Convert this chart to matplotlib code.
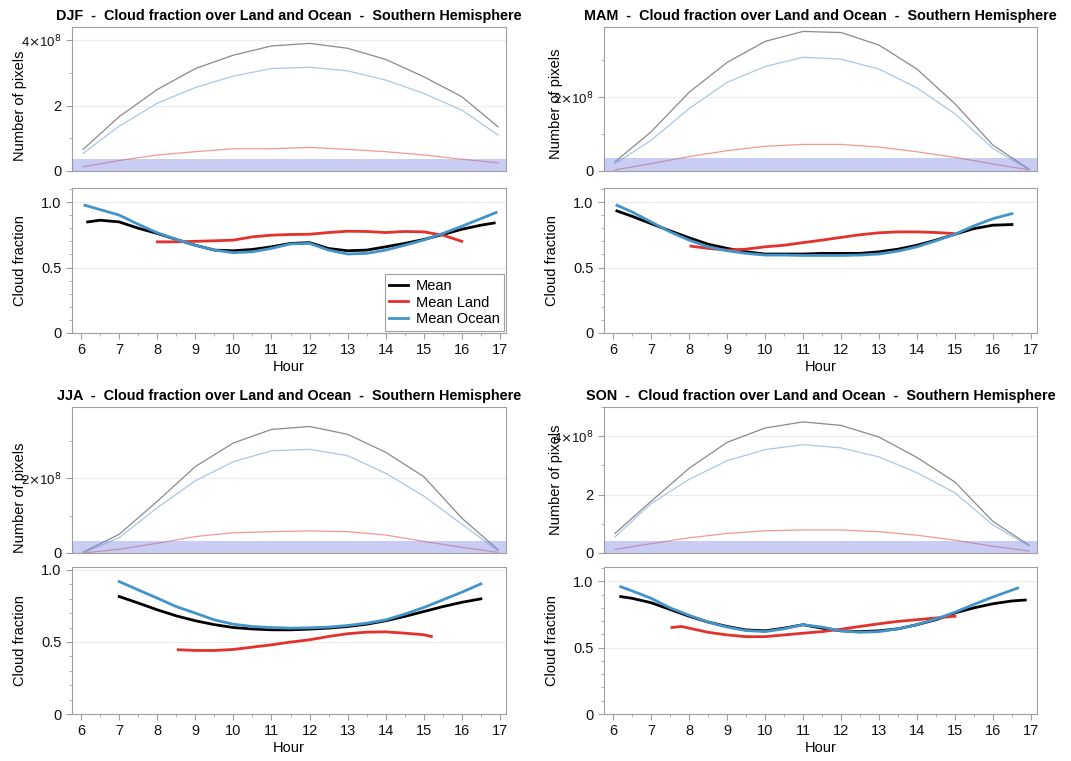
import numpy as np
import matplotlib
matplotlib.use('Agg')
import matplotlib.pyplot as plt
from matplotlib.ticker import MultipleLocator

plt.rcParams['font.family'] = ['Liberation Sans', 'DejaVu Sans']

# ----------------------------------------------------------------------
# Data
# ----------------------------------------------------------------------
SEASONS = ['DJF', 'MAM', 'JJA', 'SON']
TITLE_TAIL = '  -  Cloud fraction over Land and Ocean  -  Southern Hemisphere'

# number of pixels (units of 1e8), one value per hour
PIX_HOURS = [6.05, 7, 8, 9, 10, 11, 12, 13, 14, 15, 16, 16.95]
pix_total = {
    'DJF': [0.66, 1.66, 2.49, 3.13, 3.54, 3.82, 3.90, 3.75, 3.41, 2.88, 2.27, 1.35],
    'MAM': [0.25, 1.06, 2.13, 2.94, 3.51, 3.78, 3.75, 3.41, 2.76, 1.82, 0.70, 0.05],
    'JJA': [0.02, 0.50, 1.38, 2.31, 2.94, 3.30, 3.38, 3.17, 2.69, 2.04, 0.93, 0.09],
    'SON': [0.67, 1.77, 2.90, 3.79, 4.28, 4.49, 4.37, 3.97, 3.27, 2.43, 1.08, 0.27],
}
pix_ocean = {
    'DJF': [0.54, 1.37, 2.07, 2.55, 2.90, 3.13, 3.17, 3.06, 2.78, 2.37, 1.86, 1.10],
    'MAM': [0.20, 0.83, 1.69, 2.40, 2.83, 3.08, 3.03, 2.76, 2.25, 1.55, 0.61, 0.03],
    'JJA': [0.00, 0.41, 1.21, 1.93, 2.44, 2.73, 2.77, 2.60, 2.13, 1.52, 0.77, 0.06],
    'SON': [0.55, 1.69, 2.52, 3.16, 3.54, 3.71, 3.60, 3.29, 2.75, 2.06, 0.96, 0.24],
}
pix_land = {
    'DJF': [0.13, 0.32, 0.49, 0.59, 0.68, 0.68, 0.72, 0.66, 0.59, 0.49, 0.36, 0.25],
    'MAM': [0.03, 0.20, 0.39, 0.55, 0.67, 0.72, 0.72, 0.65, 0.52, 0.37, 0.19, 0.03],
    'JJA': [0.00, 0.10, 0.26, 0.44, 0.54, 0.57, 0.59, 0.57, 0.48, 0.31, 0.15, 0.02],
    'SON': [0.12, 0.32, 0.52, 0.67, 0.76, 0.79, 0.79, 0.73, 0.61, 0.44, 0.23, 0.07],
}
band_top = {'DJF': 0.38, 'MAM': 0.36, 'JJA': 0.31, 'SON': 0.42}
pix_ylim = {'DJF': 4.4, 'MAM': 3.9, 'JJA': 3.9, 'SON': 5.0}

# cloud fraction curves: (hours, values)
cf_mean = {
    'DJF': ([6.17, 6.5, 7, 7.5, 8, 8.5, 9, 9.5, 10, 10.5, 11, 11.5, 12, 12.5, 13, 13.5,
             14, 14.5, 15, 15.5, 16, 16.5, 16.85],
            [0.848, 0.861, 0.848, 0.80, 0.76, 0.714, 0.67, 0.633, 0.628, 0.638, 0.658,
             0.684, 0.69, 0.645, 0.628, 0.633, 0.658, 0.684, 0.714, 0.752, 0.792, 0.823, 0.84]),
    'MAM': ([6.1, 6.5, 7, 7.5, 8, 8.5, 9, 9.5, 10, 10.5, 11, 11.5, 12, 12.5, 13, 13.5,
             14, 14.5, 15, 15.5, 16, 16.5],
            [0.932, 0.891, 0.835, 0.78, 0.727, 0.678, 0.646, 0.62, 0.603, 0.603, 0.603,
             0.608, 0.608, 0.608, 0.62, 0.64, 0.67, 0.709, 0.754, 0.797, 0.823, 0.828]),
    'JJA': ([7, 7.5, 8, 8.5, 9, 9.5, 10, 10.5, 11, 11.5, 12, 12.5, 13, 13.5, 14, 14.5,
             15, 15.5, 16, 16.5],
            [0.815, 0.77, 0.723, 0.681, 0.647, 0.62, 0.60, 0.59, 0.584, 0.584, 0.589,
             0.596, 0.607, 0.623, 0.647, 0.677, 0.711, 0.745, 0.775, 0.799]),
    'SON': ([6.2, 6.5, 7, 7.5, 8, 8.5, 9, 9.5, 10, 10.5, 11, 11.5, 12, 12.5, 13, 13.5,
             14, 14.5, 15, 15.5, 16, 16.5, 16.85],
            [0.885, 0.872, 0.839, 0.788, 0.737, 0.693, 0.66, 0.634, 0.627, 0.647, 0.673,
             0.647, 0.627, 0.621, 0.627, 0.642, 0.673, 0.711, 0.762, 0.80, 0.831, 0.852, 0.859]),
}
cf_ocean = {
    'DJF': ([6.1, 6.5, 7, 7.5, 8, 8.5, 9, 9.5, 10, 10.5, 11, 11.5, 12, 12.5, 13, 13.5,
             14, 14.5, 15, 15.5, 16, 16.5, 16.9],
            [0.975, 0.942, 0.90, 0.83, 0.765, 0.714, 0.67, 0.633, 0.613, 0.62, 0.646,
             0.68, 0.684, 0.633, 0.603, 0.608, 0.633, 0.67, 0.71, 0.76, 0.815, 0.873, 0.92]),
    'MAM': ([6.1, 6.5, 7, 7.5, 8, 8.5, 9, 9.5, 10, 10.5, 11, 11.5, 12, 12.5, 13, 13.5,
             14, 14.5, 15, 15.5, 16, 16.5],
            [0.975, 0.924, 0.848, 0.772, 0.709, 0.658, 0.628, 0.608, 0.595, 0.595, 0.592,
             0.592, 0.592, 0.595, 0.603, 0.625, 0.658, 0.704, 0.754, 0.818, 0.873, 0.911]),
    'JJA': ([7, 7.5, 8, 8.5, 9, 9.5, 10, 10.5, 11, 11.5, 12, 12.5, 13, 13.5, 14, 14.5,
             15, 15.5, 16, 16.5],
            [0.919, 0.861, 0.804, 0.745, 0.70, 0.653, 0.623, 0.607, 0.60, 0.596, 0.598,
             0.603, 0.614, 0.63, 0.653, 0.693, 0.739, 0.792, 0.845, 0.903]),
    'SON': ([6.2, 6.5, 7, 7.5, 8, 8.5, 9, 9.5, 10, 10.5, 11, 11.5, 12, 12.5, 13, 13.5,
             14, 14.5, 15, 15.5, 16, 16.65],
            [0.959, 0.928, 0.872, 0.80, 0.744, 0.693, 0.655, 0.629, 0.621, 0.642, 0.673,
             0.655, 0.627, 0.616, 0.621, 0.642, 0.673, 0.716, 0.767, 0.826, 0.882, 0.949]),
}
cf_land = {
    'DJF': ([8, 8.5, 9, 9.5, 10, 10.5, 11, 11.5, 12, 12.5, 13, 13.5, 14, 14.5, 15, 15.5, 16],
            [0.696, 0.696, 0.70, 0.704, 0.709, 0.734, 0.747, 0.752, 0.754, 0.767, 0.777,
             0.775, 0.767, 0.775, 0.772, 0.747, 0.70]),
    'MAM': ([8.05, 8.5, 9, 9.5, 10, 10.5, 11, 11.5, 12, 12.5, 13, 13.5, 14, 14.5, 14.95],
            [0.663, 0.646, 0.633, 0.64, 0.658, 0.67, 0.69, 0.709, 0.73, 0.75, 0.765,
             0.772, 0.772, 0.767, 0.76]),
    'JJA': ([8.55, 9, 9.5, 10, 10.5, 11, 11.5, 12, 12.5, 13, 13.5, 14, 14.5, 15, 15.2],
            [0.446, 0.441, 0.441, 0.448, 0.464, 0.48, 0.499, 0.515, 0.538, 0.557, 0.568,
             0.57, 0.561, 0.55, 0.538]),
    'SON': ([7.55, 7.8, 8, 8.5, 9, 9.5, 10, 10.5, 11, 11.5, 12, 12.5, 13, 13.5, 14, 14.5, 15],
            [0.652, 0.66, 0.647, 0.616, 0.596, 0.583, 0.583, 0.596, 0.609, 0.621, 0.639,
             0.66, 0.68, 0.698, 0.711, 0.724, 0.737]),
}
cf_ylim = {'DJF': 1.107, 'MAM': 1.107, 'JJA': 1.02, 'SON': 1.108}

HOUR_TICKS = list(range(6, 18))

# ----------------------------------------------------------------------
# Layout (pixel boxes -> figure fractions)
# ----------------------------------------------------------------------
W, H = 1071, 761
def rect(left, right, top, bottom):
    return [left / W, 1 - bottom / H, (right - left) / W, (bottom - top) / H]

cols = {'DJF': (72, 506), 'MAM': (604, 1037), 'JJA': (72, 506), 'SON': (604, 1037)}
rows = {'DJF': (27, 171, 188, 333), 'MAM': (27, 171, 188, 333),
        'JJA': (407, 553, 567, 714), 'SON': (407, 553, 567, 714)}
pix_label_y = {'DJF': 0.45, 'MAM': 0.47, 'JJA': 0.38, 'SON': 0.5}

SPINE = '#a0a0a0'
GRID = '#ececec'
C_MEAN, C_LAND, C_OCEAN = '#000000', '#e4312b', '#4394c8'


def style_axes(ax):
    for s in ax.spines.values():
        s.set_color(SPINE)
        s.set_linewidth(0.8)
    ax.tick_params(which='both', color=SPINE, direction='out', labelsize=10.5,
                   labelcolor='#111111')
    ax.tick_params(which='major', length=4)
    ax.tick_params(which='minor', length=2.5)
    ax.set_axisbelow(True)
    ax.grid(axis='y', which='major', color=GRID, linewidth=0.8)


fig = plt.figure(figsize=(W / 100, H / 100), dpi=100)

for season in SEASONS:
    left, right = cols[season]
    t0, t1, b0, b1 = rows[season]
    xlim = (5.76, 17.16)

    # --- pixel counts ---
    ax1 = fig.add_axes(rect(left, right, t0, t1))
    style_axes(ax1)
    ax1.plot(PIX_HOURS, np.array(pix_total[season]) * 1e8, color='#8a8a8a', lw=0.9)
    ax1.plot(PIX_HOURS, np.array(pix_ocean[season]) * 1e8, color='#a9c8e6', lw=0.9)
    ax1.plot(PIX_HOURS, np.array(pix_land[season]) * 1e8, color='#f09a94', lw=0.9)
    ax1.axhspan(0, band_top[season] * 1e8, color='#7a84e4', alpha=0.4, lw=0, zorder=3)
    ax1.set_xlim(*xlim)
    ax1.set_ylim(0, pix_ylim[season] * 1e8)
    ax1.set_xticks([])
    major = [v for v in (0, 2, 4) if v <= pix_ylim[season]]
    labels = [str(v) for v in major]
    labels[-1] = r'%d$\times$10$^{8}$' % major[-1]
    ax1.set_yticks([v * 1e8 for v in major], labels)
    for lab in ax1.get_yticklabels():
        if 'times' in lab.get_text():
            lab.set_fontsize(9.5)
    ax1.yaxis.set_minor_locator(MultipleLocator(1e8))
    ax1.set_ylabel('Number of pixels', fontsize=10.5)
    ax1.yaxis.set_label_coords(-0.104 if left < 300 else -0.095, pix_label_y[season])
    ax1.set_title(season + TITLE_TAIL, fontsize=10.4, fontweight='bold', pad=5)

    # --- cloud fraction ---
    ax2 = fig.add_axes(rect(left, right, b0, b1))
    style_axes(ax2)
    ax2.plot(*cf_mean[season], color=C_MEAN, lw=2, label='Mean')
    ax2.plot(*cf_land[season], color=C_LAND, lw=2, label='Mean Land')
    ax2.plot(*cf_ocean[season], color=C_OCEAN, lw=2, label='Mean Ocean')
    ax2.set_xlim(*xlim)
    ax2.set_ylim(0, cf_ylim[season])
    ax2.set_xticks(HOUR_TICKS)
    ax2.xaxis.set_minor_locator(MultipleLocator(0.5))
    ax2.set_yticks([0, 0.5, 1.0], ['0', '0.5', '1.0'])
    ax2.yaxis.set_minor_locator(MultipleLocator(0.1))
    ax2.set_xlabel('Hour', fontsize=10.5, labelpad=2)
    ax2.set_ylabel('Cloud fraction', fontsize=10.5)
    ax2.yaxis.set_label_coords(-0.104, 0.5)

    if season == 'DJF':
        leg = ax2.legend(loc='lower right', fontsize=10.5, fancybox=False,
                         borderaxespad=0.15, handlelength=1.3, handletextpad=0.5,
                         labelspacing=0.2, borderpad=0.3)
        leg.get_frame().set_edgecolor('#888888')
        leg.get_frame().set_linewidth(0.8)

fig.savefig('out.png', dpi=100)
